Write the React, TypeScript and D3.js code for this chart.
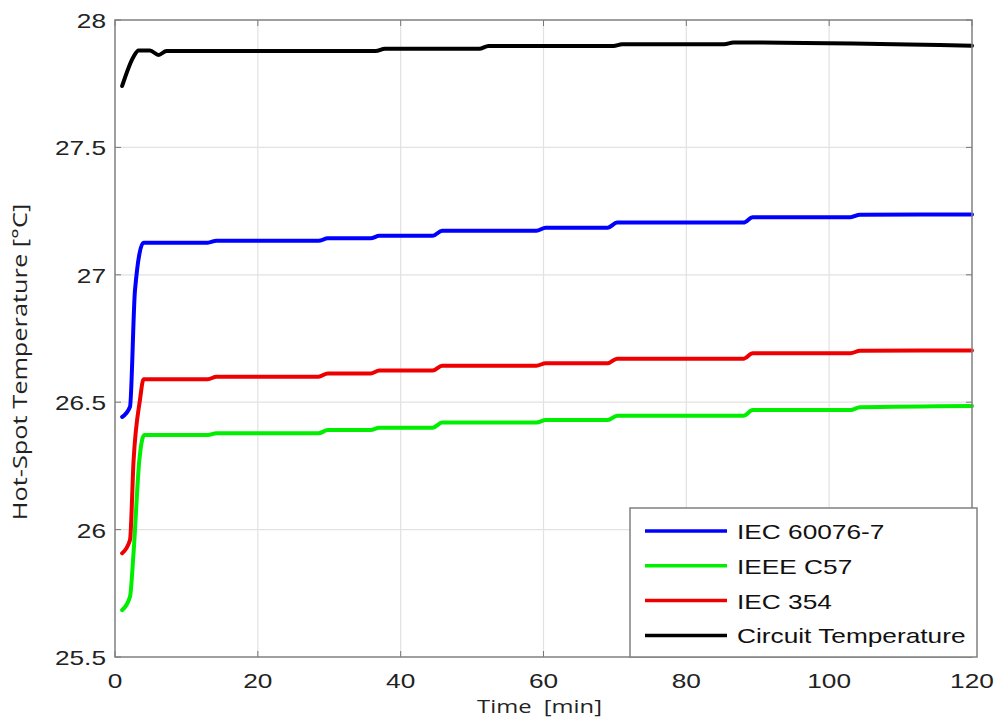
import * as d3 from "d3";

// time axis points [min] and temperatures [°C]
const tIec = [1, 2.1, 2.8, 4, 13, 14.2, 28.5, 29.8, 35.8, 37, 44.5, 45.8, 59, 60.3, 69, 70.3, 88, 89.3, 103, 104.3, 120];
const iec60076 = [26.442, 26.482, 26.94, 27.126, 27.126, 27.134, 27.134, 27.143, 27.143, 27.153, 27.153, 27.173, 27.173, 27.185, 27.185, 27.205, 27.205, 27.226, 27.226, 27.236, 27.237];

const tRed = [1, 2.1, 2.6, 3.5, 4, 13, 14.2, 28.5, 29.8, 35.8, 37, 44.5, 45.8, 59, 60.3, 69, 70.3, 88, 89.3, 103, 104.3, 120];
const iec354 = [25.907, 25.959, 26.27, 26.51, 26.59, 26.59, 26.6, 26.6, 26.613, 26.613, 26.624, 26.624, 26.643, 26.643, 26.653, 26.653, 26.671, 26.671, 26.692, 26.692, 26.702, 26.703];

const tGreen = [1, 2.1, 2.6, 3.4, 4.1, 13, 14.2, 28.5, 29.8, 35.8, 37, 44.5, 45.8, 59, 60.3, 69, 70.3, 88, 89.3, 103, 104.3, 120];
const ieeeC57 = [25.684, 25.737, 25.91, 26.27, 26.371, 26.371, 26.378, 26.378, 26.391, 26.391, 26.4, 26.4, 26.42, 26.42, 26.43, 26.43, 26.447, 26.447, 26.469, 26.469, 26.48, 26.485];

const tCircuit = [1, 2.6, 3.3, 4.9, 6.1, 7.2, 36.5, 37.8, 51, 52.3, 69.8, 71, 85.3, 86.6, 120];
const circuit = [27.741, 27.856, 27.88, 27.88, 27.863, 27.878, 27.878, 27.887, 27.887, 27.898, 27.898, 27.905, 27.905, 27.912, 27.899];

const xTicks = [0, 20, 40, 60, 80, 100, 120];
const yTicks = [25.5, 26, 26.5, 27, 27.5, 28];

const seriesNames = ["IEC 60076-7", "IEEE C57", "IEC 354", "Circuit Temperature"];
const seriesColors = ["#0000ff", "#00ee00", "#ee0000", "#000000"];

const W = 998;
const H = 720;
const left = 115;
const right = 972;
const top = 20;
const bottom = 657;
const sx = 1.25; // the source picture is stretched sideways

export default function App() {
  const x = d3.scaleLinear().domain([0, 120]).range([left, right]);
  const y = d3.scaleLinear().domain([25.5, 28]).range([bottom, top]);

  const line = d3
    .line<[number, number]>()
    .x((d) => x(d[0]))
    .y((d) => y(d[1]))
    .curve(d3.curveMonotoneX);

  const series = [
    { t: tIec, v: iec60076 },
    { t: tGreen, v: ieeeC57 },
    { t: tRed, v: iec354 },
    { t: tCircuit, v: circuit },
  ];

  const legX = 630;
  const legY = 508;
  const legW = 347;
  const legH = 149;
  const rowY = (i: number) => legY + 23 + i * 34.8;

  return (
    <svg
      width={W}
      height={H}
      style={{ position: "absolute", left: 0, top: 0, background: "#fff" }}
      fontFamily="'Liberation Sans', Arial, sans-serif"
    >
      {/* grid */}
      {xTicks.slice(1, -1).map((t) => (
        <line key={"gx" + t} x1={x(t)} x2={x(t)} y1={top} y2={bottom} stroke="#e2e2e2" strokeWidth={1.2} />
      ))}
      {yTicks.slice(1, -1).map((t) => (
        <line key={"gy" + t} x1={left} x2={right} y1={y(t)} y2={y(t)} stroke="#e2e2e2" strokeWidth={1.2} />
      ))}

      {/* ticks */}
      {xTicks.map((t) => (
        <g key={"tx" + t}>
          <line x1={x(t)} x2={x(t)} y1={bottom} y2={bottom - 6} stroke="#777" />
          <line x1={x(t)} x2={x(t)} y1={top} y2={top + 6} stroke="#777" />
          <text
            transform={`translate(${x(t)},${bottom + 31}) scale(${sx},1)`}
            textAnchor="middle"
            fontSize={21}
            fill="#222"
          >
            {t}
          </text>
        </g>
      ))}
      {yTicks.map((t) => (
        <g key={"ty" + t}>
          <line x1={left} x2={left + 6} y1={y(t)} y2={y(t)} stroke="#777" />
          <line x1={right} x2={right - 6} y1={y(t)} y2={y(t)} stroke="#777" />
          <text
            transform={`translate(${left - 9},${y(t) + 8}) scale(${sx},1)`}
            textAnchor="end"
            fontSize={21}
            fill="#222"
          >
            {t}
          </text>
        </g>
      ))}

      {/* data */}
      {series.map((s, i) => (
        <path
          key={seriesNames[i]}
          d={line(s.t.map((t, j) => [t, s.v[j]] as [number, number])) || ""}
          fill="none"
          stroke={seriesColors[i]}
          strokeWidth={4}
          strokeLinejoin="round"
          strokeLinecap="round"
        />
      ))}

      {/* frame */}
      <rect x={left} y={top} width={right - left} height={bottom - top} fill="none" stroke="#808080" strokeWidth={1.5} />

      {/* legend */}
      <rect x={legX} y={legY} width={legW} height={legH} fill="#fff" stroke="#808080" strokeWidth={1.5} />
      {seriesNames.map((n, i) => (
        <g key={"leg" + n}>
          <line x1={legX + 15} x2={legX + 97} y1={rowY(i)} y2={rowY(i)} stroke={seriesColors[i]} strokeWidth={3.5} />
          <text transform={`translate(${legX + 107},${rowY(i) + 8}) scale(${sx},1)`} fontSize={21} fill="#111">
            {n}
          </text>
        </g>
      ))}

      {/* axis titles */}
      <text
        transform={`translate(27,362) rotate(-90) scale(1.3,1)`}
        textAnchor="middle"
        fontSize={19.5}
        fontFamily="'Open Sans', sans-serif"
        fill="#222"
      >
        Hot-Spot Temperature [°C]
      </text>
      <text
        transform={`translate(${(left + right) / 2 - 4},713) scale(${sx},1)`}
        textAnchor="middle"
        fontSize={19}
        fontFamily="'Open Sans', sans-serif"
        fill="#222"
        xmlSpace="preserve"
      >
        Time  [min]
      </text>
    </svg>
  );
}
